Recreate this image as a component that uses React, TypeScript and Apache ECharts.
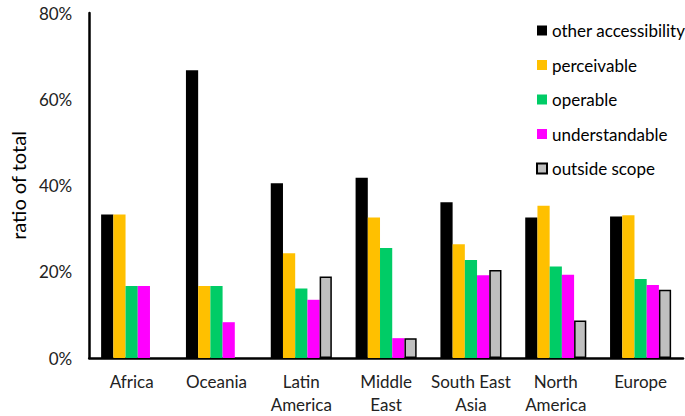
import React, { useEffect, useRef } from "react";
import * as echarts from "echarts";

const categories = ["Africa", "Oceania", "Latin\nAmerica", "Middle\nEast", "South East\nAsia", "North\nAmerica", "Europe"];
const seriesNames = ["other accessibility", "perceivable", "operable", "understandable", "outside scope"];
const otherAccessibility = [33.3, 66.7, 40.5, 41.8, 36.1, 32.6, 32.8];
const perceivable = [33.3, 16.7, 24.3, 32.6, 26.4, 35.3, 33.1];
const operable = [16.7, 16.7, 16.1, 25.5, 22.7, 21.2, 18.3];
const understandable = [16.7, 8.3, 13.5, 4.6, 19.2, 19.3, 16.9];
const outsideScope = [0, 0, 18.9, 4.6, 20.4, 8.7, 15.8];
const yTicks = [0, 20, 40, 60, 80];

const colors = ["#000000", "#FFC000", "#00CC66", "#FF00FF", "#BFBFBF"];
const FONT = "Lato";

export default function App() {
  const ref = useRef<HTMLDivElement>(null);
  useEffect(() => {
    document.body.style.margin = "0";
    const chart = echarts.init(ref.current!, null, { renderer: "svg" });
    const data = [otherAccessibility, perceivable, operable, understandable, outsideScope];
    chart.setOption({
      animation: false,
      textStyle: { fontFamily: FONT },
      grid: { left: 78, right: 2, top: 13, bottom: 58, containLabel: false },
      legend: {
        orient: "vertical",
        left: 536,
        top: 22,
        padding: 0,
        itemWidth: 10,
        itemHeight: 10,
        itemGap: 17.5,
        icon: "rect",
        textStyle: { fontFamily: FONT, fontSize: 17, color: "#000" },
        data: seriesNames,
      },
      xAxis: {
        type: "category",
        data: categories,
        axisLine: { lineStyle: { color: "#000", width: 2.5 } },
        axisTick: { show: false },
        axisLabel: { fontFamily: FONT, fontSize: 17, color: "#222", margin: 12, lineHeight: 23, interval: 0 },
      },
      yAxis: {
        type: "value",
        min: yTicks[0],
        max: yTicks[yTicks.length - 1],
        interval: 20,
        name: "ratio of total",
        nameLocation: "middle",
        nameGap: 57,
        nameTextStyle: { fontFamily: FONT, fontSize: 20, color: "#000" },
        axisLine: { show: true, lineStyle: { color: "#000", width: 2.5 } },
        axisTick: { show: false },
        splitLine: { show: false },
        axisLabel: { fontFamily: FONT, fontSize: 17, color: "#222", margin: 17, formatter: "{value}%" },
      },
      series: seriesNames.map((name, i) => ({
        name,
        type: "bar",
        data: data[i].map((v) =>
          v === 0 ? { value: v, itemStyle: { borderWidth: 0 } } : v
        ),
        barGap: "0%",
        barCategoryGap: "28%",
        itemStyle: {
          color: colors[i],
          borderColor: i === 4 ? "#000" : colors[i],
          borderWidth: i === 4 ? 1.5 : 0,
        },
      })),
    });
    return () => chart.dispose();
  }, []);
  return <div ref={ref} style={{ width: 685, height: 416 }} />;
}
